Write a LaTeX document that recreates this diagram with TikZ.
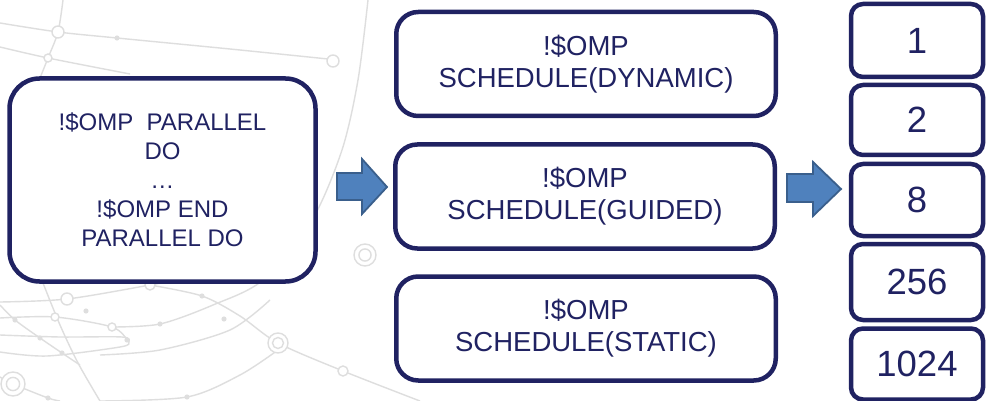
\documentclass[tikz,border=0pt]{standalone}
\usepackage{fontspec}
\setmainfont{Liberation Sans}
\definecolor{navy}{RGB}{32,34,98}
\definecolor{netgray}{RGB}{222,222,222}
\definecolor{arrowfill}{RGB}{79,129,189}
\definecolor{arrowedge}{RGB}{58,95,140}
\tikzset{
  net/.style={draw=netgray, line width=1.4pt},
  ring/.style={draw=netgray, line width=1.4pt, fill=white},
  netdot/.style={fill=netgray},
  codebox/.style={draw=navy, line width=4.5pt, fill=white, inner sep=0pt,
    text=navy, align=center},
  bigbox/.style={codebox, rounded corners=30pt, minimum width=306pt,
    minimum height=203pt, font=\fontsize{24}{29}\selectfont},
  schedbox/.style={codebox, rounded corners=22pt, minimum width=379.5pt,
    minimum height=104pt, font=\fontsize{27.5}{32}\selectfont},
  chunkbox/.style={codebox, rounded corners=12pt, minimum width=132pt,
    font=\fontsize{36.5}{42}\selectfont},
  blockarrow/.style={fill=arrowfill, draw=arrowedge, line width=1.8pt,
    line join=miter}
}
\begin{document}
\begin{tikzpicture}[x=1pt, y=-1pt]
  \useasboundingbox (0,0) rectangle (986,401);
  \fill[white] (0,0) rectangle (986,401);

  % faint network pattern in the background
  \draw[net] plot[smooth] coordinates {(0,23) (58,32) (117,38) (230,49) (328,59)};
  \draw[net] plot[smooth] coordinates {(63,0) (58,32) (48,58) (36,88)};
  \draw[net] plot[smooth] coordinates {(0,47) (48,58) (130,74)};
  \draw[net] plot[smooth] coordinates {(368,0) (358,80) (342,150) (312,220) (263,280) (213,305) (160,324) (112,327)};
  \draw[net] plot[smooth] coordinates {(0,302) (67,299) (150,285) (175,280)};
  \draw[net] plot[smooth] coordinates {(0,305) (15,320) (40,338) (62,353) (80,365)};
  \draw[net] plot[smooth] coordinates {(43,283) (60,325) (78,363) (100,401)};
  \draw[net] plot[smooth] coordinates {(0,335) (60,337) (122,337) (129,342) (120,347) (47,356) (0,352)};
  \draw[net] plot[smooth] coordinates {(0,318) (55,317) (112,327) (127,340)};
  \draw[net] plot[smooth] coordinates {(150,285) (202,296) (240,316) (278,343) (343,371) (420,401)};
  \draw[net] plot[smooth] coordinates {(278,350) (240,375) (187,397) (100,401)};
  \draw[net] plot[smooth] coordinates {(0,377) (13,384) (48,398) (60,401)};
  \draw[net] plot[smooth] coordinates {(100,355) (160,350) (230,330) (270,300)};
  \foreach \p/\r in {{(58,32)}/6, {(333,61)}/6, {(48,58)}/4, {(67,299)}/6,
      {(150,285)}/5, {(55,317)}/4, {(112,327)}/4, {(343,371)}/5}
    \draw[ring] \p circle (\r);
  \foreach \p in {(117,38), (160,324), (86,311), (202,296), (224,319),
      (48,398), (187,397), (15,320), (40,338), (127,340), (62,353)}
    \fill[netdot] \p circle (2.6);
  \foreach \p/\r in {{(278,343)}/10, {(13,384)}/12, {(365,255)}/11} {
    \draw[ring] \p circle (\r);
    \draw[ring] \p circle (\r*0.55);
  }

  % loop construct
  \node[bigbox] (loop) at (162.5,180)
    {!\$OMP~~PARALLEL\\DO\\…\\!\$OMP END\\PARALLEL DO};

  % scheduling clauses
  \node[schedbox] (dynamic) at (586,64)    {!\$OMP\\SCHEDULE(DYNAMIC)};
  \node[schedbox] (guided)  at (585,196.5) {!\$OMP\\SCHEDULE(GUIDED)};
  \node[schedbox] (static)  at (586,328.5) {!\$OMP\\SCHEDULE(STATIC)};

  % chunk sizes
  \node[chunkbox, minimum height=73pt] (c1)    at (917,40.5)  {1};
  \node[chunkbox, minimum height=70pt] (c2)    at (917,120)   {2};
  \node[chunkbox, minimum height=72pt] (c8)    at (917,200)   {8};
  \node[chunkbox, minimum height=76pt] (c256)  at (917,282)   {256};
  \node[chunkbox, minimum height=71pt] (c1024) at (917,364)   {1024};

  % block arrows between the columns
  \draw[blockarrow] (337,173) -- (362,173) -- (362,159) -- (387,187)
    -- (362,214) -- (362,200) -- (337,200) -- cycle;
  \draw[blockarrow] (787,174) -- (813,174) -- (813,162) -- (841,189)
    -- (813,216) -- (813,202) -- (787,202) -- cycle;
\end{tikzpicture}
\end{document}
